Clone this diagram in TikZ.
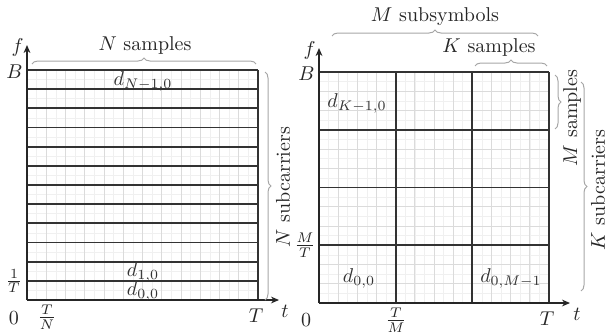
\documentclass[tikz,border=0pt]{standalone}
\usetikzlibrary{arrows.meta,decorations.pathreplacing}
\begin{document}
\begin{tikzpicture}[x=0.5pt,y=-0.5pt,
  finegrid/.style={draw=gray!12,line width=0.3pt},
  midgrid/.style={draw=gray!28,line width=0.35pt},
  thick line/.style={draw=black!80,line width=0.95pt},
  axis/.style={draw=black!85,line width=1pt,-{Stealth[length=4pt,width=3.4pt]}},
  brace/.style={draw=gray!70,line width=0.5pt,decorate,decoration={brace,amplitude=3pt}},
  lbl/.style={inner sep=1pt,text=black!85},
  dlbl/.style={inner sep=0pt,text=black!80}]
\useasboundingbox (0,0) rectangle (609,333);

% ---------- left panel ----------
\coordinate (LO) at (27,300);
\coordinate (LT) at (258,300);
\coordinate (LB) at (27,70);
\coordinate (LTB) at (258,70);
\foreach \i in {1,...,23} {
  \path[finegrid] ({27+\i*9.625},70) -- ({27+\i*9.625},300);
  \path[finegrid] (27,{70+\i*9.5833}) -- (258,{70+\i*9.5833});
}
\foreach \i in {1,...,11} {
  \path[midgrid] ({27+\i*19.25},70) -- ({27+\i*19.25},300);
}
\foreach \j in {0,...,11} {
  \path[thick line] (27,{70+\j*19.1667}) -- (258,{70+\j*19.1667});
}
\path[thick line] (LTB) -- (LT);
\coordinate (Lxend) at (279,300);
\coordinate (Lyend) at (27,45);
\draw[axis] (LO) -- (Lxend);
\draw[axis] (LO) -- (Lyend);
\node[lbl,anchor=east] (Lf) at (26,47) {$f$};
\node[lbl] (Lt) at (285,311) {$t$};
\node[lbl,anchor=east] (LBl) at (25,72) {$B$};
\node[lbl] (LTl) at (256,316) {$T$};
\node[lbl] (L0l) at (14,318) {$0$};
\node[lbl] (LTN) at (47,317) {$\frac{T}{N}$};
\node[lbl] (L1T) at (14,281) {$\frac{1}{T}$};
\node[dlbl] (dN) at (143,81) {$d_{N-1,0}$};
\node[dlbl] (d10) at (143,272) {$d_{1,0}$};
\node[dlbl] (d00) at (143,291) {$d_{0,0}$};
\coordinate (Lb1) at (32,64);
\coordinate (Lb2) at (256,64);
\draw[brace] (Lb1) -- (Lb2);
\node[lbl] (Lns) at (145,45) {$N$ samples};
\coordinate (Lr1) at (265,72);
\coordinate (Lr2) at (265,300);
\draw[brace] (Lr1) -- (Lr2);
\node[lbl,rotate=90] (Lnsc) at (283,187) {$N$ subcarriers};

% ---------- right panel ----------
\coordinate (RO) at (319,303);
\coordinate (RT) at (549,303);
\coordinate (RB) at (319,72);
\coordinate (RTB) at (549,72);
\foreach \i in {1,...,23} {
  \path[finegrid] ({319+\i*9.5833},72) -- ({319+\i*9.5833},303);
  \path[finegrid] (319,{72+\i*9.625}) -- (549,{72+\i*9.625});
}
\foreach \i in {1,...,11} {
  \path[midgrid] ({319+\i*19.1667},72) -- ({319+\i*19.1667},303);
  \path[midgrid] (319,{72+\i*19.25}) -- (549,{72+\i*19.25});
}
\foreach \j in {0,1,2,3} {
  \path[thick line] (319,{72+\j*57.75}) -- (549,{72+\j*57.75});
}
\foreach \i in {1,2,3} {
  \path[thick line] ({319+\i*76.667},72) -- ({319+\i*76.667},303);
}
\coordinate (Rxend) at (570,303);
\coordinate (Ryend) at (319,48);
\draw[axis] (RO) -- (Rxend);
\draw[axis] (RO) -- (Ryend);
\node[lbl,anchor=east] (Rf) at (318,50) {$f$};
\node[lbl] (Rt) at (577,314) {$t$};
\node[lbl,anchor=east] (RBl) at (317,74) {$B$};
\node[lbl] (RTl) at (547,319) {$T$};
\node[lbl] (R0l) at (306,320) {$0$};
\node[lbl] (RTM) at (396,320) {$\frac{T}{M}$};
\node[lbl] (RMT) at (305,245) {$\frac{M}{T}$};
\node[dlbl] (dK) at (357,103) {$d_{K-1,0}$};
\node[dlbl] (dR00) at (359,278) {$d_{0,0}$};
\node[dlbl] (dM) at (511,278) {$d_{0,M-1}$};
\coordinate (Rb1) at (332,36);
\coordinate (Rb2) at (538,36);
\draw[brace] (Rb1) -- (Rb2);
\node[lbl] (Rms) at (435,17) {$M$ subsymbols};
\coordinate (Rk1) at (475,66);
\coordinate (Rk2) at (547,66);
\draw[brace] (Rk1) -- (Rk2);
\node[lbl] (Rks) at (489,47) {$K$ samples};
\coordinate (Rm1) at (555,75);
\coordinate (Rm2) at (555,129);
\draw[brace] (Rm1) -- (Rm2);
\node[lbl,rotate=90] (Rmsl) at (572,118) {$M$ samples};
\coordinate (Rs1) at (581,82);
\coordinate (Rs2) at (581,291);
\draw[brace] (Rs1) -- (Rs2);
\node[lbl,rotate=90] (Rksc) at (598,190) {$K$ subcarriers};
\end{tikzpicture}
\end{document}
